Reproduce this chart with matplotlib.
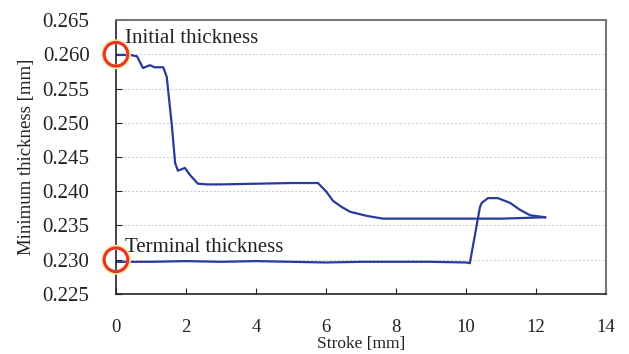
import matplotlib
matplotlib.use("Agg")
import matplotlib.pyplot as plt

# Upper curve (initial -> final)
upper_x = [0.0, 0.4, 0.6, 0.77, 0.97, 1.1, 1.35, 1.45, 1.6, 1.69, 1.77, 1.97, 2.11, 2.34, 2.6, 3.0, 4.0, 5.0, 5.5, 5.77, 6.0, 6.2, 6.45, 6.69, 7.17, 7.63, 8.0, 9.0, 10.0, 11.0, 12.26]
upper_y = [0.2599, 0.2599, 0.2597, 0.2580, 0.2584, 0.2581, 0.2581, 0.2567, 0.2494, 0.2441, 0.2430, 0.2434, 0.2424, 0.2411, 0.2410, 0.2410, 0.2411, 0.2412, 0.2412, 0.2412, 0.2400, 0.2386, 0.2377, 0.2370, 0.2364, 0.2360, 0.2360, 0.2360, 0.2360, 0.2360, 0.2362]

# Lower curve (terminal)
lower_x = [0.0, 1.0, 2.0, 3.0, 4.0, 5.0, 6.0, 7.0, 8.0, 9.0, 10.0, 10.11, 10.4, 10.45, 10.63, 10.91, 11.26, 11.54, 11.83, 12.26]
lower_y = [0.2297, 0.2297, 0.2298, 0.2297, 0.2298, 0.2297, 0.2296, 0.2297, 0.2297, 0.2297, 0.2296, 0.2295, 0.2377, 0.2383, 0.2390, 0.2390, 0.2383, 0.2373, 0.2365, 0.2362]

xticks = [0, 2, 4, 6, 8, 10, 12, 14]
yticks = [0.225, 0.230, 0.235, 0.240, 0.245, 0.250, 0.255, 0.260, 0.265]

plt.rcParams['font.family'] = ['Liberation Serif', 'DejaVu Serif']

fig = plt.figure(figsize=(6.29, 3.54), dpi=100)
ax = fig.add_axes([0.1844, 0.1695, 0.779, 0.774])

line_color = '#2a3a9c'
ax.plot(upper_x, upper_y, color=line_color, lw=1.6)
ax.plot(lower_x, lower_y, color=line_color, lw=1.6)

ax.set_xlim(0, 14)
ax.set_ylim(0.225, 0.265)
ax.set_xticks(xticks)
ax.set_xticklabels([str(t) for t in xticks])
ax.set_yticks(yticks)
ax.set_yticklabels([f"{t:.3f}" for t in yticks])
ax.tick_params(axis='x', direction='in', length=4, pad=18, labelsize=13.5, colors='#222222')
ax.tick_params(axis='y', direction='in', length=4, pad=19, labelsize=15, colors='#222222')
ax.grid(axis='y', color='#c8c8c8', linestyle=(0, (2, 2)), lw=0.7)
ax.set_axisbelow(True)

for s in ['left', 'bottom']:
    ax.spines[s].set_color('#222222')
    ax.spines[s].set_linewidth(1.2)
for s in ['top', 'right']:
    ax.spines[s].set_color('#777777')
    ax.spines[s].set_linewidth(1.5)

ax.set_xlabel('Stroke [mm]', fontsize=12.5, labelpad=0, color='#222222')
ax.set_ylabel('Minimum thickness [mm]', fontsize=13.5, color='#222222')
ax.yaxis.set_label_coords(-0.165, 0.5)

# red circles
for yy in [0.260, 0.230]:
    ax.scatter([0], [yy], s=18**2, facecolors='none', edgecolors='#f7e9a0', linewidths=3.5, clip_on=False, zorder=5)
    ax.scatter([0], [yy], s=17**2, facecolors='none', edgecolors='#e8322a', linewidths=2.2, clip_on=False, zorder=6)

ax.text(0.25, 0.2623, 'Initial thickness', fontsize=15, va='center', ha='left', color='#222222')
ax.text(0.25, 0.2318, 'Terminal thickness', fontsize=15, va='center', ha='left', color='#222222')

fig.savefig('out.png', dpi=100)
